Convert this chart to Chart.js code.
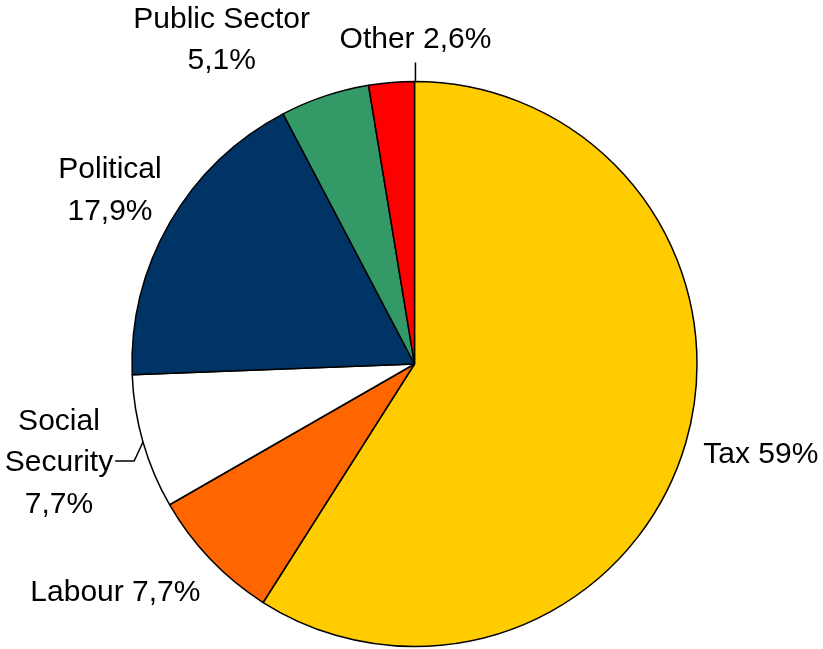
<!DOCTYPE html>
<html lang="en">
  <head>
    <meta charset="UTF-8" />
    <title>Breakdown by Area</title>
    <script src="https://cdn.jsdelivr.net/npm/chart.js"></script>
    <style>
      body { margin: 0; background: #fff; }
      canvas { display: block; }
    </style>
  </head>
  <body>
    <canvas id="pieChart" width="823" height="649"></canvas>

    <script>
      const categories = ["Tax", "Labour", "Social Security", "Political", "Public Sector", "Other"];
      const shares = [59, 7.7, 7.7, 17.9, 5.1, 2.6];
      const valueLabels = ["59%", "7,7%", "7,7%", "17,9%", "5,1%", "2,6%"];
      const sliceColors = ["#FFCC00", "#FF6600", "#FFFFFF", "#003366", "#339966", "#FF0000"];

      // how each label is laid out: text lines, nudge from the slice's outer mid point, leader style
      const labelLayout = [
        { lines: ["Tax 59%"], dx: 75, dy: 12 },
        { lines: ["Labour 7,7%"], dx: -95, dy: 33 },
        { lines: ["Social", "Security", "7,7%"], dx: -84, dy: 21, leader: "elbow" },
        { lines: ["Political", "17,9%"], dx: -60, dy: -32 },
        { lines: ["Public Sector", "5,1%"], dx: -103, dy: -56 },
        { lines: ["Other 2,6%"], dx: 24, dy: -43, leader: "vertical" },
      ];

      const FONT = '30px "Liberation Sans", Arial, sans-serif';
      const LINE_H = 41.5;

      const outsideLabels = {
        id: "outsideLabels",
        afterDraw(chart) {
          const ctx = chart.ctx;
          const arcs = chart.getDatasetMeta(0).data;
          ctx.save();
          ctx.font = FONT;
          ctx.fillStyle = "#000";
          ctx.strokeStyle = "#000";
          ctx.lineWidth = 1.5;
          ctx.textAlign = "center";
          ctx.textBaseline = "middle";

          arcs.forEach((arc, i) => {
            const { x, y, startAngle, endAngle, outerRadius } = arc.getProps(
              ["x", "y", "startAngle", "endAngle", "outerRadius"], true
            );
            const mid = (startAngle + endAngle) / 2;
            const ax = x + Math.cos(mid) * outerRadius;
            const ay = y + Math.sin(mid) * outerRadius;
            const lay = labelLayout[i];
            const cx = ax + lay.dx;
            const cy = ay + lay.dy;
            const n = lay.lines.length;

            lay.lines.forEach((t, k) => {
              ctx.fillText(t, cx, cy + (k - (n - 1) / 2) * LINE_H);
            });

            if (lay.leader === "elbow") {
              const w = ctx.measureText(lay.lines[1]).width;
              const sx = cx + w / 2 + 2;
              ctx.beginPath();
              ctx.moveTo(sx, cy - 2);
              ctx.lineTo(sx + 19, cy - 2);
              ctx.lineTo(ax, ay);
              ctx.stroke();
            } else if (lay.leader === "vertical") {
              const ex = cx;
              const ey = y - Math.sqrt(outerRadius * outerRadius - (ex - x) * (ex - x));
              ctx.beginPath();
              ctx.moveTo(ex, cy + 23);
              ctx.lineTo(ex, ey);
              ctx.stroke();
            }
          });
          ctx.restore();
        },
      };

      new Chart(document.getElementById("pieChart").getContext("2d"), {
        type: "pie",
        data: {
          labels: categories,
          datasets: [
            {
              data: shares,
              backgroundColor: sliceColors,
              borderColor: "#000",
              borderWidth: 1.5,
            },
          ],
        },
        options: {
          responsive: false,
          animation: false,
          rotation: 0,
          radius: 282.5,
          layout: { padding: { top: 81.5, bottom: 2.5, left: 6, right: 0 } },
          plugins: {
            legend: { display: false },
            tooltip: { enabled: false },
          },
        },
        plugins: [outsideLabels],
      });
    </script>
  </body>
</html>
